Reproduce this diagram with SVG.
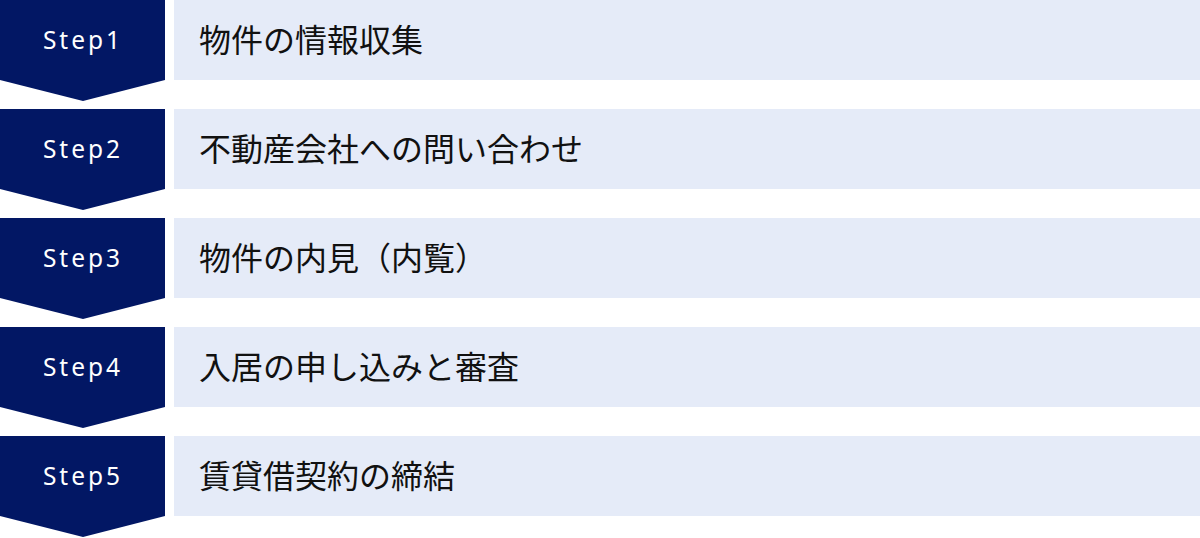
<svg xmlns="http://www.w3.org/2000/svg" width="1200" height="538" viewBox="0 0 1200 538">
<style>
.step{fill:#021764}
.bar{fill:#e5ebf8}
.lbl{font-family:"Noto Sans","Noto Sans CJK JP",sans-serif;font-size:24.5px;fill:#ffffff;letter-spacing:3px;text-anchor:middle}
.txt{font-family:"Noto Sans CJK JP","Noto Sans",sans-serif;font-size:32px;fill:#111111}
</style>
<rect width="1200" height="538" fill="#ffffff"/>
<g id="step1">
<polygon class="step" points="0,0 165,0 165,80 83,101 0,80"/>
<rect class="bar" x="174" y="0" width="1026" height="80"/>
<text class="lbl" x="83" y="49">Step1</text>
<text class="txt" x="199" y="52">物件の情報収集</text>
</g>
<g id="step2">
<polygon class="step" points="0,109 165,109 165,189 83,210 0,189"/>
<rect class="bar" x="174" y="109" width="1026" height="80"/>
<text class="lbl" x="83" y="158">Step2</text>
<text class="txt" x="199" y="161">不動産会社への問い合わせ</text>
</g>
<g id="step3">
<polygon class="step" points="0,218 165,218 165,298 83,319 0,298"/>
<rect class="bar" x="174" y="218" width="1026" height="80"/>
<text class="lbl" x="83" y="267">Step3</text>
<text class="txt" x="199" y="270">物件の内見（内覧）</text>
</g>
<g id="step4">
<polygon class="step" points="0,327 165,327 165,407 83,428 0,407"/>
<rect class="bar" x="174" y="327" width="1026" height="80"/>
<text class="lbl" x="83" y="376">Step4</text>
<text class="txt" x="199" y="379">入居の申し込みと審査</text>
</g>
<g id="step5">
<polygon class="step" points="0,436 165,436 165,516 83,537 0,516"/>
<rect class="bar" x="174" y="436" width="1026" height="80"/>
<text class="lbl" x="83" y="485">Step5</text>
<text class="txt" x="199" y="488">賃貸借契約の締結</text>
</g>
<g id="connectors"></g>
</svg>
